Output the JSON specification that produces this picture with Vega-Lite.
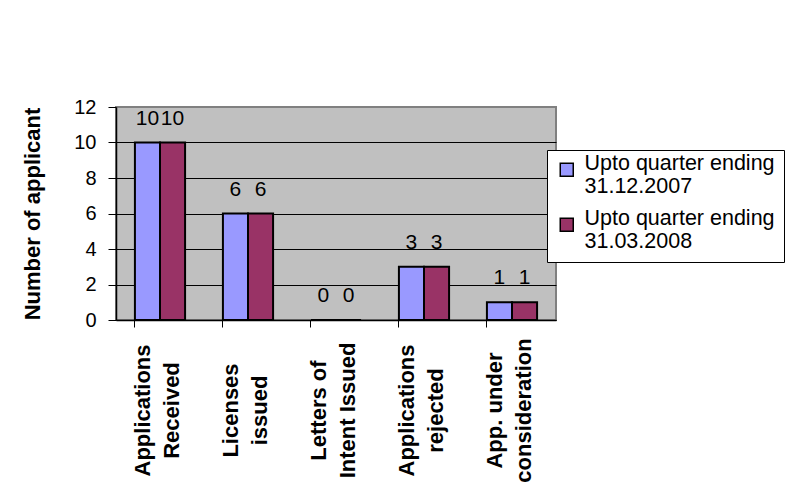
{
  "$schema": "https://vega.github.io/schema/vega-lite/v6.json",
  "autosize": {"type": "none"},
  "width": 440,
  "height": 213,
  "padding": {"left": 116, "top": 107, "right": 234, "bottom": 183},
  "background": "white",
  "config": {
    "font": "Liberation Sans",
    "view": {"fill": "#C0C0C0", "stroke": "#808080", "strokeWidth": 2}
  },
  "data": {
    "values": [
      {"category": "Applications Received", "series": "Upto quarter ending 31.12.2007", "value": 10},
      {"category": "Applications Received", "series": "Upto quarter ending 31.03.2008", "value": 10},
      {"category": "Licenses issued", "series": "Upto quarter ending 31.12.2007", "value": 6},
      {"category": "Licenses issued", "series": "Upto quarter ending 31.03.2008", "value": 6},
      {"category": "Letters of Intent Issued", "series": "Upto quarter ending 31.12.2007", "value": 0},
      {"category": "Letters of Intent Issued", "series": "Upto quarter ending 31.03.2008", "value": 0},
      {"category": "Applications rejected", "series": "Upto quarter ending 31.12.2007", "value": 3},
      {"category": "Applications rejected", "series": "Upto quarter ending 31.03.2008", "value": 3},
      {"category": "App. under consideration", "series": "Upto quarter ending 31.12.2007", "value": 1},
      {"category": "App. under consideration", "series": "Upto quarter ending 31.03.2008", "value": 1}
    ]
  },
  "encoding": {
    "x": {
      "field": "category",
      "type": "nominal",
      "sort": null,
      "scale": {"paddingInner": 0.43, "paddingOuter": 0.215},
      "axis": {
        "title": null,
        "bandPosition": 0,
        "labelAngle": -90,
        "labelAlign": "center",
        "labelBaseline": "middle",
        "labelFontSize": 22,
        "labelFontWeight": "bold",
        "labelColor": "black",
        "labelLineHeight": 29,
        "labelOffset": -17,
        "labelPadding": 83,
        "labelLimit": 300,
        "labelExpr": "datum.label == 'Letters of Intent Issued' ? ['Letters of', 'Intent Issued'] : datum.label == 'App. under consideration' ? ['App. under', 'consideration'] : split(datum.label, ' ')",
        "tickSize": 7,
        "tickColor": "black",
        "domainColor": "black",
        "domainWidth": 1.5,
        "grid": false
      }
    },
    "xOffset": {
      "field": "series",
      "type": "nominal",
      "sort": ["Upto quarter ending 31.12.2007", "Upto quarter ending 31.03.2008"],
      "scale": {"paddingInner": 0, "paddingOuter": 0}
    },
    "y": {
      "field": "value",
      "type": "quantitative",
      "scale": {"domain": [0, 12], "nice": false},
      "axis": {
        "title": "Number of applicant",
        "titleFontSize": 22,
        "titleFontWeight": "bold",
        "titleColor": "black",
        "titlePadding": 29,
        "values": [0, 2, 4, 6, 8, 10, 12],
        "labelFontSize": 20,
        "labelColor": "black",
        "labelPadding": 12,
        "tickSize": 8,
        "tickColor": "black",
        "domainColor": "black",
        "domainWidth": 1.5,
        "grid": true,
        "gridColor": {"condition": {"test": "datum.value == 12", "value": "#808080"}, "value": "black"},
        "gridWidth": 1
      }
    }
  },
  "layer": [
    {
      "mark": {"type": "bar", "stroke": "black", "strokeWidth": 2},
      "encoding": {
        "color": {
          "field": "series",
          "type": "nominal",
          "sort": ["Upto quarter ending 31.12.2007", "Upto quarter ending 31.03.2008"],
          "scale": {"range": ["#9999FF", "#993366"]},
          "legend": {
            "title": null,
            "orient": "none",
            "legendX": 431,
            "legendY": 43,
            "padding": 9,
            "fillColor": "white",
            "strokeColor": "black",
            "symbolType": "square",
            "symbolSize": 169,
            "symbolStrokeColor": "black",
            "symbolStrokeWidth": 1.5,
            "labelFontSize": 21.5,
            "labelColor": "black",
            "labelLineHeight": 24,
            "labelBaseline": "alphabetic",
            "labelOffset": 7,
            "labelLimit": 300,
            "rowPadding": 9,
            "labelExpr": "[substring(datum.label, 0, 19), substring(datum.label, 20)]"
          }
        }
      }
    },
    {
      "mark": {"type": "text", "fontSize": 21, "color": "black", "baseline": "alphabetic", "dy": -18},
      "encoding": {"text": {"field": "value", "type": "quantitative"}}
    }
  ]
}
